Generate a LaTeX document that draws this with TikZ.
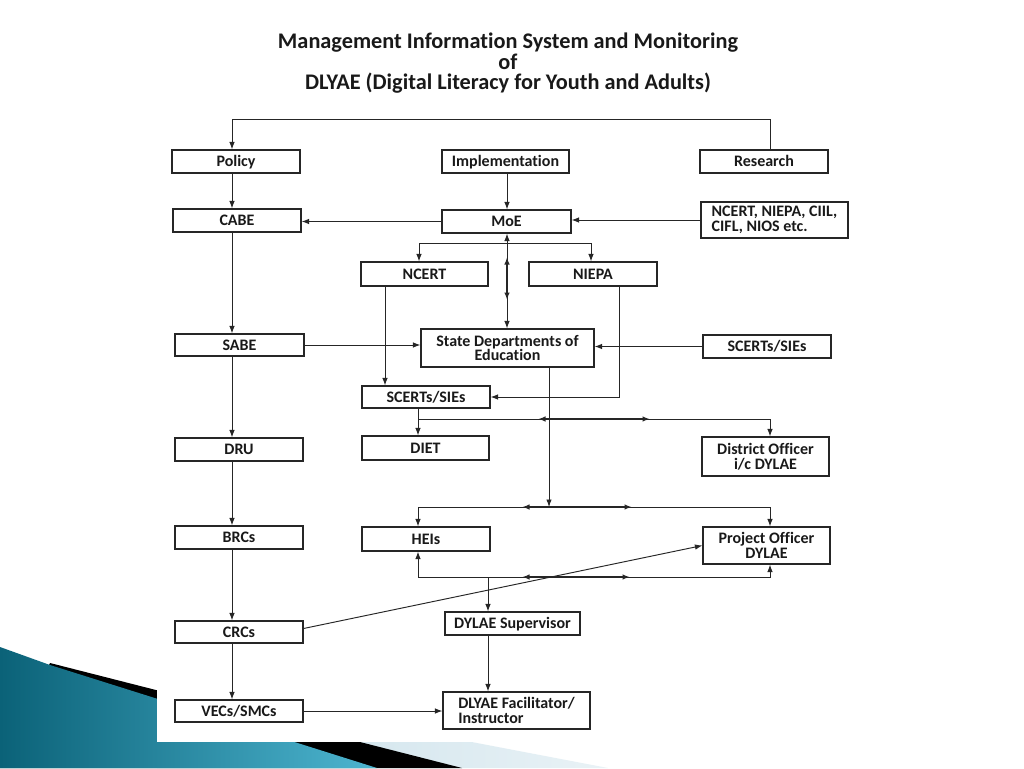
\documentclass[tikz,border=0pt]{standalone}
\usepackage{fontspec}
\setmainfont{Carlito}[Ligatures=CommonOff]
\usetikzlibrary{arrows.meta}

\definecolor{swdark}{HTML}{0B6278}
\definecolor{swmid}{HTML}{4DB5D0}
\definecolor{swlight}{HTML}{C6DEE8}
\definecolor{swpale}{HTML}{E9F2F6}
\definecolor{inkline}{HTML}{262626}

\begin{document}
\begin{tikzpicture}[x=1pt, y=-1pt, >={Latex[length=7.5pt,width=5.5pt]},
                    every node/.style={font=\bfseries\fontsize{16}{14.5}\selectfont, text=black!90},
                    box/.style={draw=inkline, line width=1.1pt, inner sep=0pt, align=center,
                                minimum width=128pt, minimum height=23pt},
                    word/.style={box, text height=10.3pt, text depth=0pt},
                    title/.style={align=center, font=\bfseries\fontsize{22.3}{20.5}\selectfont},
                    every edge/.style={draw, inkline, line width=0.95pt},
                    link/.style={draw=inkline, line width=0.95pt},
                    mid/.style={link, <->, line width=1.6pt}]

                    % Slide background
                    \useasboundingbox (0,0) rectangle (1024,768);
                    \fill[white] (0,0) rectangle (1024,768);
                    \shade[left color=swlight, right color=swpale] (157,682) -- (608,768) -- (157,768) -- cycle;
                    \fill[black] (50,663) -- (462,768) -- (0,768) -- cycle;
                    \shade[left color=swdark, right color=swmid] (0,647) -- (50,665) -- (377,768) -- (0,768) -- cycle;
                    \fill[white] (157,0) rectangle (880,742);

                    % Title
                    \node[title] (head) at (508,63.5) {Management Information System and Monitoring\\of\\DLYAE (Digital Literacy for Youth and Adults)};

                    % Define nodes
                    \node[word] (policy) at (236,161.5) {Policy};
                    \node[word, minimum width=127pt] (impl) at (505.5,161.5) {Implementation};
                    \node[word] (research) at (764,161.5) {Research};
                    \node[word] (cabe) at (237,220.5) {CABE};
                    \node[word, minimum width=129pt] (moe) at (506.5,221.5) {MoE};
                    \node[box, minimum width=147pt, minimum height=36pt, align=left] (others) at (774.5,220) {NCERT, NIEPA, CIIL,\\CIFL, NIOS etc.};
                    \node[word, minimum width=127pt, minimum height=24pt] (ncert) at (424.5,274) {NCERT};
                    \node[word, minimum height=24pt] (niepa) at (593,274) {NIEPA};
                    \node[box, minimum width=173pt, minimum height=38pt] (state) at (507.5,348) {State Departments of\\Education};
                    \node[word, minimum width=129pt, minimum height=22pt] (sabe) at (239.5,345) {SABE};
                    \node[word] (scertR) at (767,346.5) {SCERTs/SIEs};
                    \node[word, minimum height=22pt] (scertM) at (426,397) {SCERTs/SIEs};
                    \node[word] (dru) at (239,449.5) {DRU};
                    \node[word, minimum width=127pt, minimum height=24pt] (diet) at (425.5,448) {DIET};
                    \node[box, minimum width=127pt, minimum height=39pt] (distr) at (765.5,456.5) {District Officer\\i/c DYLAE};
                    \node[word] (brcs) at (239,537.5) {BRCs};
                    \node[word, minimum height=24pt] (heis) at (426,539) {HEIs};
                    \node[box, minimum width=127pt, minimum height=37pt] (po) at (766.5,545.5) {Project Officer\\DYLAE};
                    \node[word, minimum height=22pt] (crcs) at (239,632) {CRCs};
                    \node[word, minimum width=135pt] (sup) at (512.5,623.5) {DYLAE Supervisor};
                    \node[word, minimum height=22pt] (vecs) at (239,711) {VECs/SMCs};
                    \node[box, minimum width=147pt, minimum height=37pt, align=left] (fac) at (516.5,710.5) {DLYAE Facilitator/\\Instructor};

                    % Junctions
                    \coordinate (lcol) at (232,0);
                    \coordinate (rcol) at (770,0);
                    \coordinate (vx) at (507,0);
                    \coordinate (nx) at (385,0);
                    \coordinate (px) at (619,0);
                    \coordinate (dx) at (418,0);
                    \coordinate (sx) at (549,0);
                    \coordinate (qx) at (488,0);
                    \coordinate (brl) at (419,243);
                    \coordinate (brr) at (591,243);
                    \coordinate (r1) at (0,419);
                    \coordinate (r2) at (0,507);
                    \coordinate (r3) at (0,577);

                    % Define edges
                    \draw [->, link] (research.north -| rcol) -- ++(0,-30) -| (policy.north -| lcol);
                    \path [->] (policy.south -| lcol) edge (cabe.north -| lcol);
                    \path [->] (cabe.south -| lcol) edge (sabe.north -| lcol);
                    \path [->] (sabe.south -| lcol) edge (dru.north -| lcol);
                    \path [->] (dru.south -| lcol) edge (brcs.north -| lcol);
                    \path [->] (brcs.south -| lcol) edge (crcs.north -| lcol);
                    \path [->] (crcs.south -| lcol) edge (vecs.north -| lcol);
                    \path [->] (impl.south -| vx) edge (moe.north -| vx);
                    \path [->] (moe.west) edge (moe.west -| cabe.east);
                    \path [->] (others.west) edge (others.west -| moe.east);
                    \draw [<->, link] (ncert.north -| brl) |- (brr) -- (niepa.north -| brr);
                    \draw [<->, link] (moe.south -| vx) -- (state.north -| vx);
                    \draw [mid] (507,257) -- (507,300);
                    \path [->] (ncert.south -| nx) edge (scertM.north -| nx);
                    \draw [->, link] (niepa.south -| px) |- (scertM.east);
                    \path [->] (sabe.east) edge (sabe.east -| state.west);
                    \path [->] (scertR.west) edge (scertR.west -| state.east);
                    \path [->] (scertM.south -| dx) edge (diet.north -| dx);
                    \draw [->, link] (dx |- r1) -| (distr.north -| rcol);
                    \draw [mid] (538,419) -- (650,419);
                    \path [->] (state.south -| sx) edge (sx |- r2);
                    \draw [<->, link] (heis.north -| dx) |- (r2 -| rcol) -- (po.north -| rcol);
                    \draw [mid] (522,507) -- (632,507);
                    \draw [<->, link] (heis.south -| dx) |- (r3 -| rcol) -- (po.south -| rcol);
                    \draw [mid] (522,577) -- (630,577);
                    \path [->] (qx |- r3) edge (sup.north -| qx);
                    \path [->] (sup.south -| qx) edge (fac.north -| qx);
                    \path [->] (vecs.east) edge (vecs.east -| fac.west);
                    \path [->] ([yshift=3.5pt]crcs.east) edge (po.west);
                \end{tikzpicture}
\end{document}
